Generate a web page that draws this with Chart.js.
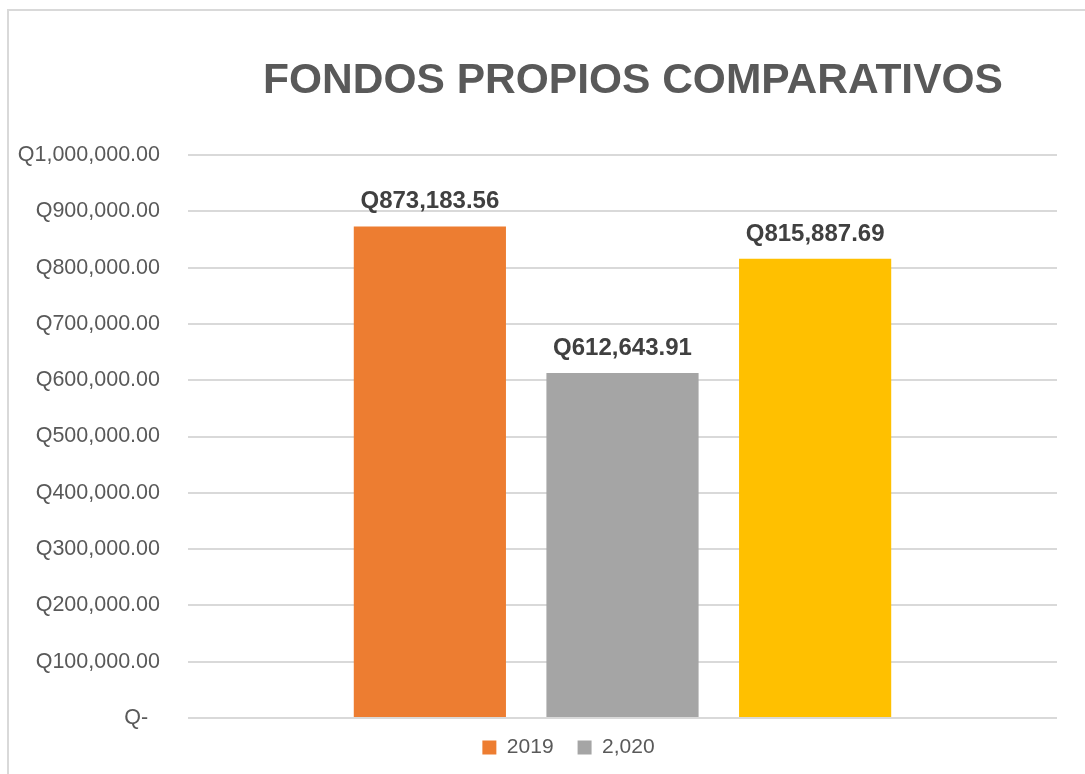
<!DOCTYPE html>
<html>
<head>
<meta charset="utf-8">
<script src="https://cdn.jsdelivr.net/npm/chart.js@4.4.1/dist/chart.umd.min.js"></script>
<style>
    html, body { margin: 0; padding: 0; background: #fff; overflow: hidden; }
    #wrap { position: relative; width: 1085px; height: 774px; }
</style>
</head>
<body>
<div id="wrap"><canvas id="fondosChart"></canvas></div>
<script>
const chartTitle = "FONDOS PROPIOS COMPARATIVOS";
const categories = [""];
const seriesNames = ["2019", "2,020", ""];
const seriesValues = [[873183.56], [612643.91], [815887.69]];
const seriesColors = ["#ED7D31", "#A5A5A5", "#FFC000"];
const yTicks = [0, 100000, 200000, 300000, 400000, 500000, 600000, 700000, 800000, 900000, 1000000];

function formatQ(value) {
    if (value === 0) return "Q-  ";
    return "Q" + value.toLocaleString("en-US", { minimumFractionDigits: 2, maximumFractionDigits: 2 });
}

// marco gris, titulo, etiquetas de valor y leyenda corrida
const extras = {
    id: "extras",
    afterLayout(chart) {
        chart.legend.left += 36;
        chart.legend.right += 36;
        chart.legend.top -= 5;
        chart.legend.bottom -= 5;
    },
    beforeDraw(chart) {
        const ctx = chart.ctx;
        ctx.save();
        ctx.strokeStyle = "#d9d9d9";
        ctx.lineWidth = 2;
        ctx.strokeRect(8, 10, 1200, 900);
        ctx.restore();
    },
    afterDatasetsDraw(chart) {
        const ctx = chart.ctx;
        ctx.save();
        ctx.fillStyle = "#595959";
        ctx.font = "bold 42.5px 'Liberation Sans', Arial, sans-serif";
        ctx.textAlign = "center";
        ctx.textBaseline = "alphabetic";
        ctx.fillText(chartTitle, 633, 93);

        ctx.fillStyle = "#404040";
        ctx.font = "bold 24px 'Liberation Sans', Arial, sans-serif";
        chart.data.datasets.forEach((ds, i) => {
            chart.getDatasetMeta(i).data.forEach((bar, j) => {
                ctx.fillText(formatQ(ds.data[j]), bar.x, bar.y - 18);
            });
        });
        ctx.restore();
    }
};

const ctx = document.getElementById("fondosChart").getContext("2d");

new Chart(ctx, {
    type: "bar",
    data: {
        labels: categories,
        datasets: seriesNames.map((name, i) => ({
            label: name,
            data: seriesValues[i],
            backgroundColor: seriesColors[i],
            borderWidth: 0,
            categoryPercentage: 0.665,
            barPercentage: 0.79
        }))
    },
    options: {
        responsive: true,
        maintainAspectRatio: false,
        animation: false,
        layout: { padding: { top: 155, left: 8, right: 28, bottom: 1 } },
        scales: {
            x: { display: false },
            y: {
                min: 0,
                max: 1000000,
                afterBuildTicks: (scale) => { scale.ticks = yTicks.map(v => ({ value: v })); },
                afterFit: (scale) => { scale.width = 180; },
                border: { display: false },
                grid: { color: "#d9d9d9", lineWidth: 2, drawTicks: false },
                ticks: {
                    padding: 28,
                    color: "#595959",
                    font: { family: "'Liberation Sans', Arial, sans-serif", size: 21.5 },
                    callback: (value) => formatQ(value)
                }
            }
        },
        plugins: {
            title: { display: false },
            tooltip: { enabled: false },
            legend: {
                position: "bottom",
                labels: {
                    filter: (item) => item.text !== "",
                    boxWidth: 14,
                    boxHeight: 14,
                    padding: 24,
                    color: "#595959",
                    font: { family: "'Liberation Sans', Arial, sans-serif", size: 21 }
                }
            }
        }
    },
    plugins: [extras]
});
</script>
</body>
</html>
